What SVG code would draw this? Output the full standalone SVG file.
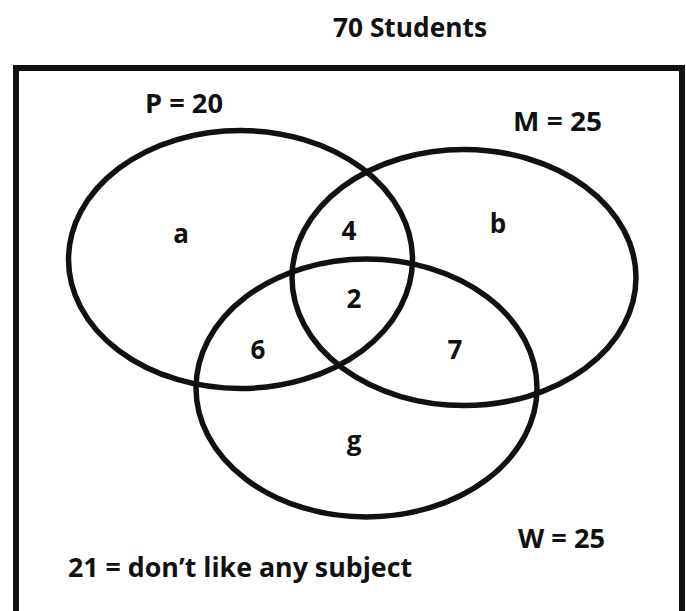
<svg xmlns="http://www.w3.org/2000/svg" width="686" height="611" viewBox="0 0 686 611">
<style>
  .set { fill: none; stroke: #111; stroke-width: 5.5; }
  .frame { fill: none; stroke: #111; stroke-width: 6; }
  text { font-family: "Open Sans", "Liberation Sans", sans-serif; font-weight: bold; fill: #111; font-size: 26px; }
  .mid { text-anchor: middle; }
</style>
<rect width="686" height="611" fill="#fff"/>
<g id="title"><text x="333" y="37" textLength="154" lengthAdjust="spacingAndGlyphs">70 Students</text></g>
<g id="universe">
  <rect class="frame" x="16" y="68" width="666" height="560"/>
  <text x="68" y="577" textLength="344" lengthAdjust="spacingAndGlyphs">21 = don’t like any subject</text>
</g>
<g id="set-P">
  <ellipse class="set" cx="240.5" cy="259.5" rx="172" ry="129"/>
  <text x="145" y="113" textLength="78" lengthAdjust="spacingAndGlyphs">P = 20</text>
</g>
<g id="set-M">
  <ellipse class="set" cx="464" cy="277.5" rx="172" ry="128"/>
  <text x="513" y="131" textLength="89" lengthAdjust="spacingAndGlyphs">M = 25</text>
</g>
<g id="set-W">
  <ellipse class="set" cx="366.5" cy="388" rx="170.5" ry="129"/>
  <text x="518" y="548" textLength="87" lengthAdjust="spacingAndGlyphs">W = 25</text>
</g>
<g id="regions">
  <text class="mid" x="181" y="243">a</text>
  <text class="mid" x="349" y="240">4</text>
  <text class="mid" x="498" y="233">b</text>
  <text class="mid" x="354" y="308">2</text>
  <text class="mid" x="258" y="359">6</text>
  <text class="mid" x="455" y="359">7</text>
  <text class="mid" x="354" y="450">g</text>
</g>
</svg>
